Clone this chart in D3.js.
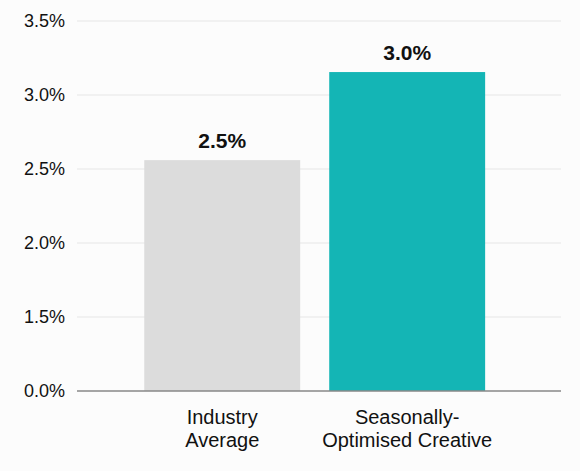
<!DOCTYPE html>
<html>
<head>
<meta charset="utf-8">
<script src="https://cdn.jsdelivr.net/npm/d3@7"></script>
<style>
  html, body { margin: 0; padding: 0; background: #fcfcfc; }
  svg { display: block; font-family: "Liberation Sans", Arial, Helvetica, sans-serif; }
</style>
</head>
<body>
<svg id="chart" width="580" height="471"></svg>
<script>
const categories = ["Industry Average", "Seasonally-Optimised Creative"];
const categoryLines = [["Industry", "Average"], ["Seasonally-", "Optimised Creative"]];
const values = [2.56, 3.155];
const valueLabels = ["2.5%", "3.0%"];
const tickValues = [0.0, 1.5, 2.0, 2.5, 3.0, 3.5];
const tickLabels = ["0.0%", "1.5%", "2.0%", "2.5%", "3.0%", "3.5%"];
const colors = ["#dcdcdc", "#14b5b5"];

(function () {
const svg = d3.select("#chart");
const mLeft = 77, mRight = 561, mBottom = 391, mTop = 21;

const step = (mBottom - mTop) / (tickValues.length - 1);
const y = d3.scaleLinear()
  .domain(tickValues)
  .range(tickValues.map((d, i) => mBottom - i * step));

const x = d3.scaleBand()
  .domain(categories)
  .range([mLeft, mRight])
  .paddingInner(0.157)
  .paddingOuter(0.387)
  .align(0.47);

// gridlines
svg.append("g")
  .selectAll("line")
  .data(tickValues.filter(d => d > 0))
  .join("line")
  .attr("x1", mLeft).attr("x2", mRight)
  .attr("y1", d => y(d)).attr("y2", d => y(d))
  .attr("stroke", "#e6e6e6").attr("stroke-width", 1);

// y tick labels
svg.append("g")
  .selectAll("text")
  .data(tickValues)
  .join("text")
  .attr("x", 65)
  .attr("y", d => y(d))
  .attr("dy", "0.35em")
  .attr("text-anchor", "end")
  .attr("font-size", 18)
  .attr("fill", "#111")
  .text((d, i) => tickLabels[i]);

// bars
svg.append("g")
  .selectAll("rect")
  .data(categories)
  .join("rect")
  .attr("x", d => x(d))
  .attr("width", x.bandwidth())
  .attr("y", (d, i) => y(values[i]))
  .attr("height", (d, i) => y(0) - y(values[i]))
  .attr("fill", (d, i) => colors[i]);

// baseline
svg.append("line")
  .attr("x1", mLeft).attr("x2", mRight)
  .attr("y1", y(0)).attr("y2", y(0))
  .attr("stroke", "#888").attr("stroke-width", 1.6);

// value labels
svg.append("g")
  .selectAll("text")
  .data(categories)
  .join("text")
  .attr("x", d => x(d) + x.bandwidth() / 2)
  .attr("y", (d, i) => y(values[i]) - 12)
  .attr("text-anchor", "middle")
  .attr("font-size", 21)
  .attr("font-weight", "bold")
  .attr("fill", "#111")
  .text((d, i) => valueLabels[i]);

// category labels
const cat = svg.append("g")
  .selectAll("text")
  .data(categories)
  .join("text")
  .attr("x", d => x(d) + x.bandwidth() / 2)
  .attr("y", 424)
  .attr("text-anchor", "middle")
  .attr("font-size", 20)
  .attr("fill", "#111");
cat.selectAll("tspan")
  .data((d, i) => categoryLines[i])
  .join("tspan")
  .attr("x", function () { return this.parentNode.getAttribute("x"); })
  .attr("dy", (d, j) => j === 0 ? 0 : 23)
  .text(d => d);
})();
</script>
</body>
</html>
